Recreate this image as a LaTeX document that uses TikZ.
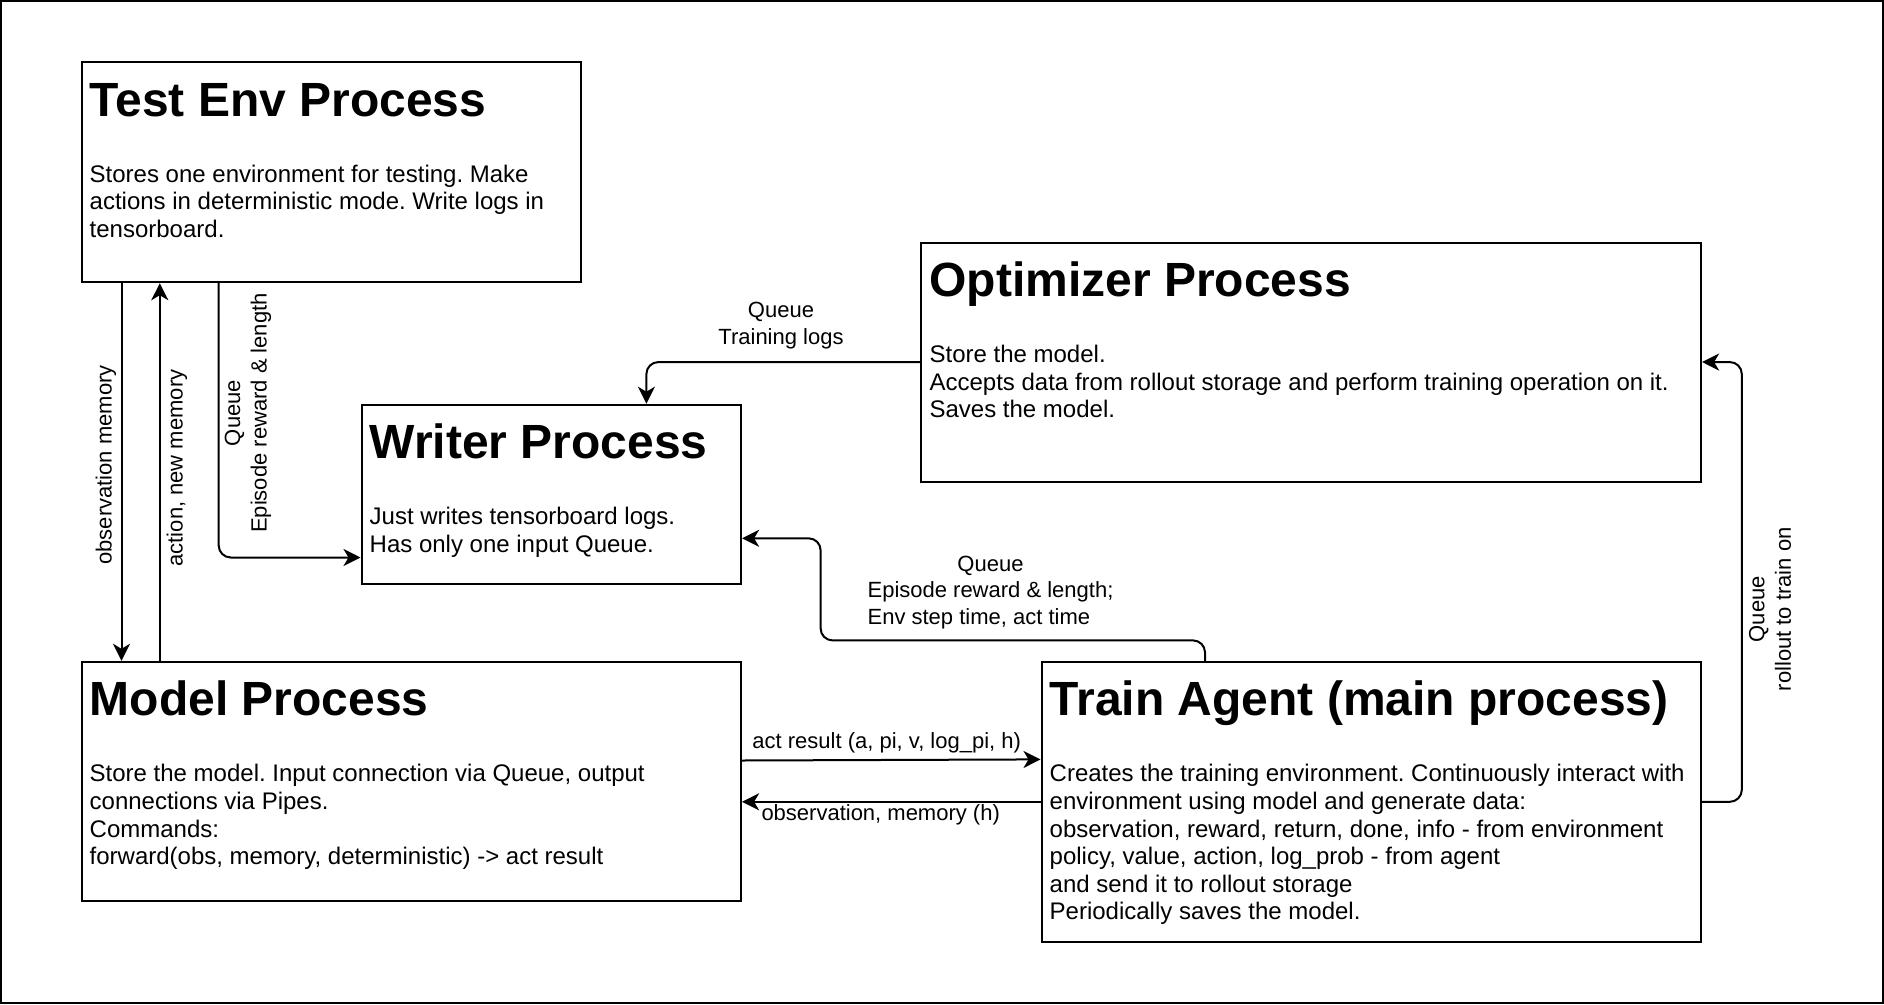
\documentclass[tikz,border=0pt]{standalone}
\usepackage{fontspec}
\setmainfont{Liberation Sans}
\usepackage{calc}
\usetikzlibrary{arrows.meta}
\frenchspacing
\tikzset{
  box/.style={draw, line width=2pt, rectangle, anchor=north west, inner sep=0pt},
  head/.style={anchor=base west, inner sep=0pt, font=\fontsize{48}{57}\selectfont\bfseries},
  body/.style={anchor=base west, inner sep=0pt, align=left, font=\fontsize{24}{27.6}\selectfont\frenchspacing},
  lbl/.style={inner sep=0pt, align=center, font=\fontsize{22}{26.4}\selectfont},
  arr/.style={line width=2pt, -{Stealth[length=17pt,width=17pt,inset=5pt]}, rounded corners=12pt},
}
\begin{document}
\begin{tikzpicture}[x=1pt,y=-1pt]
\useasboundingbox (0,0) rectangle (1884,1004);
\draw[line width=2pt] (1,1) rectangle (1883,1003);

% boxes
\node[box, minimum width=499.8pt, minimum height=219.9pt] (test) at (80.5,61.3) {};
\node[box, minimum width=379.6pt, minimum height=179pt] (writer) at (360.5,403.7) {};
\node[box, minimum width=779.7pt, minimum height=239.1pt] (opt) at (920.4,241.5) {};
\node[box, minimum width=659.6pt, minimum height=239.1pt] (model) at (80.5,660.8) {};
\node[box, minimum width=659.6pt, minimum height=280pt] (train) at (1040.5,660.8) {};

% headings
\node[head] (testh) at ([xshift=9pt,yshift=-55pt]test.north west) {Test Env Process};
\node[head] (writerh) at ([xshift=9pt,yshift=-55pt]writer.north west) {Writer Process};
\node[head] (opth) at ([xshift=9pt,yshift=-55pt]opt.north west) {Optimizer Process};
\node[head] (modelh) at ([xshift=9pt,yshift=-55pt]model.north west) {Model Process};
\node[head] (trainh) at ([xshift=9pt,yshift=-55pt]train.north west) {Train Agent (main process)};

% bodies (base anchor = baseline of last line)
\node[body] (testb) at ([xshift=9pt,yshift=-176.2pt]test.north west)
  {Stores one environment for testing. Make\\actions in deterministic mode. Write logs in\\tensorboard.};
\node[body] (writerb) at ([xshift=9pt,yshift=-148.6pt]writer.north west)
  {Just writes tensorboard logs.\\Has only one input Queue.};
\node[body] (optb) at ([xshift=9pt,yshift=-176.2pt]opt.north west)
  {Store the model.\\Accepts data from rollout storage and perform training operation on it.\\Saves the model.};
\node[body] (modelb) at ([xshift=9pt,yshift=-203.8pt]model.north west)
  {Store the model. Input connection via Queue, output\\connections via Pipes.\\Commands:\\forward(obs, memory, deterministic) -> act result};
\node[body] (trainb) at ([xshift=9pt,yshift=-259pt]train.north west)
  {Creates the training environment. Continuously interact with\\environment using model and generate data:\\observation, reward, return, done, info - from environment\\policy, value, action, log\_prob - from agent\\and send it to rollout storage\\Periodically saves the model.};

% connectors
\draw[arr] ([xshift=41pt]test.south west) -- ([xshift=41pt]model.north west);
\draw[arr] ([xshift=79.3pt]model.north west) -- ([xshift=79.3pt]test.south west);
\draw[arr] ([xshift=138.2pt]test.south west) |- ([yshift=-153.8pt]writer.north west);
\draw[arr] (opt.west) -| ([xshift=285.9pt]writer.north west);
\coordinate (wq) at (820.6,640.4);
\draw[arr] ([xshift=164.5pt]train.north west) |- (wq) |- ([yshift=-134.6pt]writer.north east);
\draw[arr] ([yshift=-99.7pt]model.north east) -- ([yshift=-98.6pt]train.north west);
\draw[arr] (train.west) -- (train.west -| model.east);
\draw[arr] (train.east) -- ++(39.7,0) |- (opt.east);

% labels
\node[lbl, rotate=90] (l1) at (106,465) {observation memory};
\node[lbl, rotate=90] (l2) at (177,468) {action, new memory};
\node[lbl, rotate=90] (l3) at (248,413) {Queue\\Episode reward \& length};
\node[lbl] (l4) at (781,325.6) {Queue\\Training logs};
\node[lbl] (l5) at (990.5,592.3) {Queue\\Episode reward \& length;\\\makebox[\widthof{Episode reward \& length;}][l]{Env step time, act time}};
\node[lbl] (l6) at (886.7,742.5) {act result (a, pi, v, log\_pi, h)};
\node[lbl] (l7) at (880.7,814.6) {observation, memory (h)};
\node[lbl, rotate=90] (l8) at (1770,609.2) {Queue\\rollout to train on};
\end{tikzpicture}
\end{document}
